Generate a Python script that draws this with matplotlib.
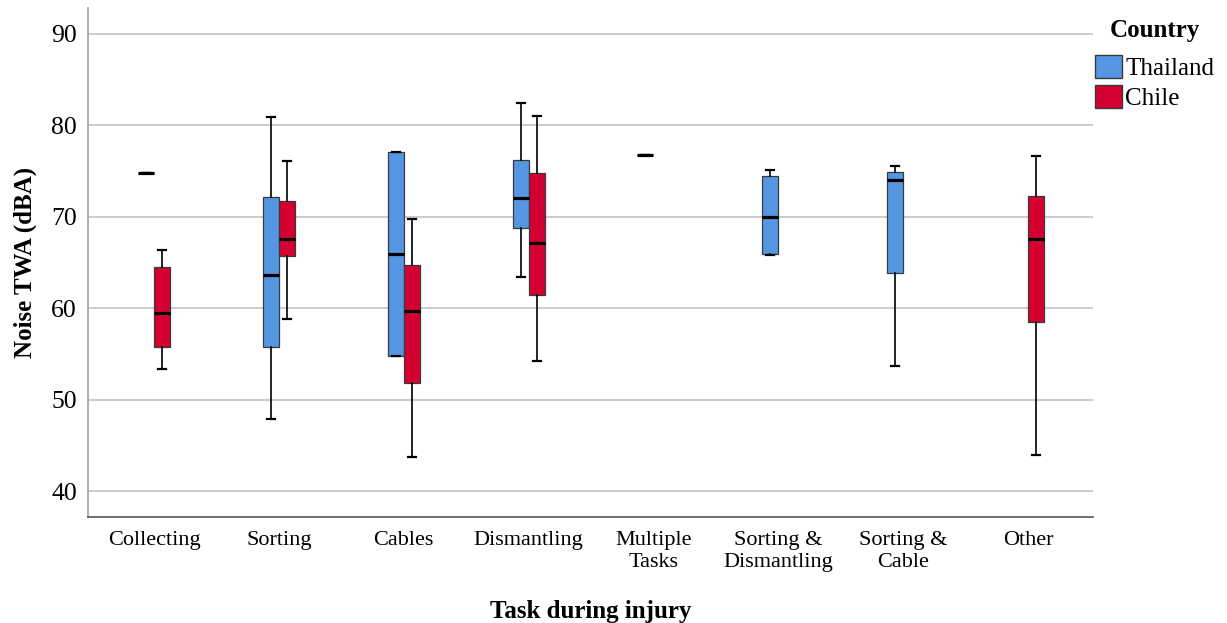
import matplotlib
matplotlib.use("Agg")
import matplotlib.pyplot as plt
from matplotlib.patches import Patch

plt.rcParams['font.family'] = ['Liberation Serif', 'DejaVu Serif']

categories = ["Collecting", "Sorting", "Cables", "Dismantling", "Multiple\nTasks",
              "Sorting &\nDismantling", "Sorting &\nCable", "Other"]

# box stats per task: lower whisker, q1, median, q3, upper whisker (None = no data)
thai_low = [74.8, 47.9, 54.8, 63.4, 76.7, 65.8, 53.7, None]
thai_q1 = [74.8, 55.8, 54.8, 68.8, 76.7, 65.9, 63.9, None]
thai_med = [74.8, 63.6, 65.9, 72.1, 76.7, 70.0, 74.0, None]
thai_q3 = [74.8, 72.2, 77.1, 76.2, 76.7, 74.5, 74.9, None]
thai_high = [74.8, 80.9, 77.1, 82.4, 76.7, 75.1, 75.6, None]

chile_low = [53.4, 58.8, 43.8, 54.2, None, None, None, 44.0]
chile_q1 = [55.8, 65.7, 51.8, 61.45, None, None, None, 58.5]
chile_med = [59.5, 67.6, 59.7, 67.1, None, None, None, 67.6]
chile_q3 = [64.5, 71.7, 64.7, 74.75, None, None, None, 72.25]
chile_high = [66.4, 76.1, 69.75, 81.0, None, None, None, 76.6]

countries = ["Thailand", "Chile"]
colours = {"Thailand": "#5596e3", "Chile": "#d50032"}


def build_stats(low, q1, med, q3, high):
    stats, pos = [], []
    for i in range(len(categories)):
        if med[i] is None:
            continue
        stats.append({"whislo": low[i], "q1": q1[i], "med": med[i], "q3": q3[i],
                      "whishi": high[i], "fliers": []})
        pos.append(i)
    return stats, pos


series = {
    "Thailand": build_stats(thai_low, thai_q1, thai_med, thai_q3, thai_high),
    "Chile": build_stats(chile_low, chile_q1, chile_med, chile_q3, chile_high),
}
offsets = {"Thailand": -0.064, "Chile": 0.064}
box_w = 0.128

fig = plt.figure(figsize=(12.27, 6.23), dpi=100)
ax = fig.add_axes([0.0717, 0.170, 0.819, 0.817])

for c in countries:
    stats, pos = series[c]
    ax.bxp(stats, positions=[p + offsets[c] for p in pos], widths=box_w,
           capwidths=box_w / 2, showfliers=False, patch_artist=True,
           boxprops=dict(facecolor=colours[c], edgecolor="#3a3a3a", linewidth=0.9),
           medianprops=dict(color="black", linewidth=2.3, solid_capstyle="butt"),
           whiskerprops=dict(color="black", linewidth=1.2),
           capprops=dict(color="black", linewidth=1.6),
           zorder=3)

ax.set_xlim(-0.53, 7.52)
ax.set_ylim(37.2, 92.8)
ax.set_yticks([40, 50, 60, 70, 80, 90])
ax.set_xticks(range(len(categories)))
ax.set_xticklabels(categories, fontsize=16, linespacing=1.2)
ax.tick_params(axis="y", labelsize=18.5, length=0, pad=8)
ax.tick_params(axis="x", length=0, pad=10)
ax.yaxis.grid(True, color="#c8c8c8", linewidth=1.3, zorder=0)
ax.set_axisbelow(True)

for s in ["top", "right"]:
    ax.spines[s].set_visible(False)
ax.spines["left"].set_color("#a8a8a8")
ax.spines["left"].set_linewidth(1.3)
ax.spines["bottom"].set_color("#555555")
ax.spines["bottom"].set_linewidth(1.2)

ax.set_ylabel("Noise TWA (dBA)", fontsize=18, fontweight="bold", labelpad=10)
ax.set_xlabel("Task during injury", fontsize=18, fontweight="bold", labelpad=20)

# legend title drawn on its own so it can sit a bit higher, as in the original
fig.text(1155 / 1227, 1 - 30 / 623, "Country", fontsize=18, fontweight="bold",
         ha="center", va="center")
handles = [Patch(facecolor=colours[c], edgecolor="#3a3a3a", linewidth=1.0) for c in countries]
leg = fig.legend(handles, countries, loc="upper left", bbox_to_anchor=(0.8928, 0.9116),
                 frameon=False, fontsize=18,
                 handlelength=1.05, handleheight=1.05, handletextpad=0.15,
                 labelspacing=0.2, borderpad=0.0, borderaxespad=0.0)

fig.savefig("out.png", dpi=100)
